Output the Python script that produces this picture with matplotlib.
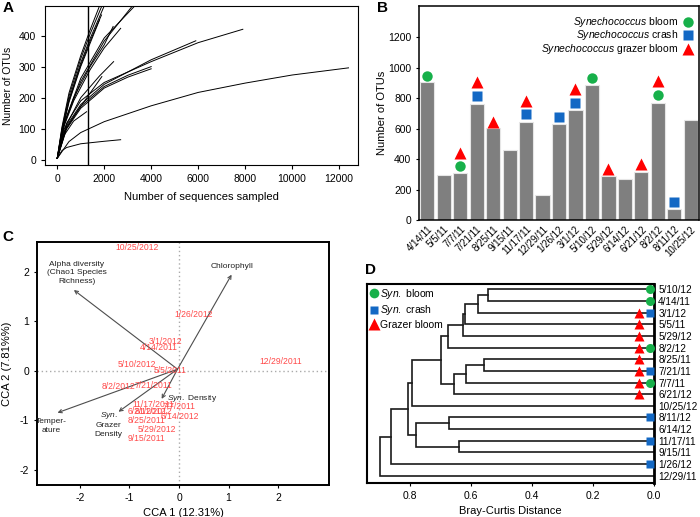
import matplotlib
matplotlib.use('Agg')
import matplotlib.pyplot as plt
import numpy as np

plt.rcParams['font.family'] = ['Liberation Sans', 'DejaVu Sans']
plt.rcParams['mathtext.fontset'] = 'custom'
plt.rcParams['mathtext.rm'] = 'Liberation Sans'
plt.rcParams['mathtext.it'] = 'Liberation Sans:italic'
plt.rcParams['axes.unicode_minus'] = False

# ---- panel A: rarefaction curves
rare_curves = [
    ([0, 500, 1000, 2000, 4000, 6000, 8000, 10000, 12400], [5, 59, 88, 123, 174, 217, 247, 273, 296]),
    ([0, 200, 400, 1000, 2000, 2700], [5, 30, 40, 52, 60, 65]),
    ([0, 400, 1000, 2000, 4000, 6000, 7900], [5, 118, 190, 249, 316, 377, 420]),
    ([0, 400, 1000, 2000, 4000, 5900], [5, 110, 178, 243, 322, 383]),
    ([0, 400, 1000, 2000, 3000, 4000], [5, 105, 172, 236, 272, 300]),
    ([0, 400, 1000, 2000, 3000, 4000], [5, 100, 166, 231, 266, 293]),
    ([0, 300, 1000, 1800, 2400], [5, 100, 200, 270, 316]),
    ([0, 300, 800, 1400, 1900], [5, 90, 150, 215, 268]),
    ([0, 300, 700, 1250], [5, 80, 125, 155]),
    ([0, 300, 1000, 2000, 3300], [5, 120, 262, 392, 495]),
    ([0, 300, 1000, 2000, 3200], [5, 116, 252, 382, 495]),
    ([0, 300, 700, 1400, 2000, 2700], [5, 110, 190, 290, 360, 423]),
    ([0, 300, 700, 1400, 2000, 2380], [5, 115, 200, 300, 370, 429]),
    ([0, 200, 500, 1000, 1400, 1900], [5, 100, 205, 325, 405, 495]),
    ([0, 200, 500, 1000, 1400, 2000], [5, 95, 195, 312, 390, 495]),
    ([0, 200, 500, 1000, 1400, 1800], [5, 90, 185, 300, 375, 450]),
    ([0, 200, 500, 1000, 1400, 1886], [5, 92, 190, 305, 382, 466]),
    ([0, 200, 500, 1000, 1400, 1800], [5, 105, 215, 335, 418, 495]),
]
rare_depth = 1320

# ---- panel B
dates = ['4/14/11', '5/5/11', '7/7/11', '7/21/11', '8/25/11', '9/15/11', '11/17/11',
         '12/29/11', '1/26/12', '3/1/12', '5/10/12', '5/29/12', '6/14/12', '6/21/12',
         '8/2/12', '8/11/12', '10/25/12']
otus = [905, 296, 307, 762, 604, 458, 642, 164, 628, 720, 887, 289, 267, 317, 770, 72, 659]
bloom_dates = ['4/14/11', '7/7/11', '5/10/12', '8/2/12']
bloom_y = [946, 355, 933, 821]
crash_dates = ['7/21/11', '11/17/11', '1/26/12', '3/1/12', '8/11/12']
crash_y = [812, 694, 676, 766, 120]
grazer_dates = ['7/7/11', '7/21/11', '8/25/11', '11/17/11', '3/1/12', '5/29/12', '6/21/12', '8/2/12']
grazer_y = [442, 904, 644, 784, 858, 333, 368, 912]

# ---- panel C: CCA
samp_names = ['10/25/2012', '1/26/2012', '3/1/2012', '4/14/2011', '12/29/2011', '5/10/2012',
              '5/5/2011', '8/2/2012', '7/21/2011', '11/17/2011', '7/7/2011', '6/21/2012',
              '8/11/2012', '6/14/2012', '8/25/2011', '5/29/2012', '9/15/2011']
samp_x = [-0.85, 0.29, -0.27, -0.40, 2.06, -0.85, -0.18, -1.22, -0.52, -0.52, 0.0, -0.65,
          -0.52, 0.02, -0.65, -0.45, -0.65]
samp_y = [2.48, 1.14, 0.59, 0.47, 0.18, 0.13, 0.0, -0.32, -0.30, -0.68, -0.73, -0.82,
          -0.83, -0.93, -1.01, -1.19, -1.38]
vec_x = [-2.12, 1.06, -2.45, -1.22, -0.35]
vec_y = [1.63, 1.94, -0.85, -0.83, -0.57]
vec_labels = ['Alpha diversity\n(Chao1 Species\nRichness)', 'Chlorophyll', 'Temper-\nature',
              '$\\it{Syn.}$\nGrazer\nDensity', '$\\it{Syn.}$ Density']
vec_lab_x = [-2.06, 1.06, -2.57, -1.42, 0.26]
vec_lab_y = [1.98, 2.1, -1.12, -1.07, -0.56]

# ---- panel D: dendrogram
leaves = ['5/10/12', '4/14/11', '3/1/12', '5/5/11', '5/29/12', '8/2/12', '8/25/11', '7/21/11',
          '7/7/11', '6/21/12', '10/25/12', '8/11/12', '6/14/12', '11/17/11', '9/15/11',
          '1/26/12', '12/29/11']
merges = [('5/10/12', '4/14/11', 0.545), (0, '3/1/12', 0.576), (1, '5/5/11', 0.62),
          (2, '5/29/12', 0.625), (3, '8/2/12', 0.677), ('8/25/11', '7/21/11', 0.558),
          (5, '7/7/11', 0.616), (6, '6/21/12', 0.655), (4, 7, 0.70), (8, '10/25/12', 0.793),
          ('8/11/12', '6/14/12', 0.672), ('11/17/11', '9/15/11', 0.64), (10, 11, 0.781),
          (9, 12, 0.807), (13, '1/26/12', 0.863), (14, '12/29/11', 0.898)]
d_bloom = ['5/10/12', '4/14/11', '8/2/12', '7/7/11']
d_crash = ['3/1/12', '7/21/11', '8/11/12', '11/17/11', '1/26/12']
d_grazer = ['3/1/12', '5/5/11', '5/29/12', '8/2/12', '8/25/11', '7/21/11', '7/7/11', '6/21/12']

green = '#17b04a'
blue = '#1368c4'
red = '#ff0000'

fig = plt.figure(figsize=(7, 5.17), dpi=100)

# A
axA = fig.add_axes([0.0643, 0.681, 0.447, 0.3075])
for xs, ys in rare_curves:
    axA.plot(xs, ys, color='black', lw=0.7)
axA.axvline(rare_depth, color='black', lw=1.0)
axA.set_xlim(-520, 12800)
axA.set_ylim(-16, 495)
axA.set_xticks(range(0, 12001, 2000))
axA.set_yticks(range(0, 401, 100))
axA.tick_params(labelsize=7.5, length=3, width=0.8)
axA.set_xlabel('Number of sequences sampled', fontsize=8)
axA.set_ylabel('Number of OTUs', fontsize=7.5)
axA.yaxis.set_label_coords(-0.103, 0.5)
axA.xaxis.set_label_coords(0.5, -0.17)
fig.text(0.004, 0.998, 'A', fontsize=11, fontweight='bold', va='top')

# B
axB = fig.add_axes([0.5986, 0.5745, 0.4, 0.414])
xb = np.arange(len(dates))
axB.bar(xb, otus, width=0.86, color='#7f7f7f', edgecolor='#e6e6e6', linewidth=0.8, zorder=2)
axB.plot([dates.index(d) for d in bloom_dates], bloom_y, 'o', color=green, ms=7.5, mec='none', zorder=3)
axB.plot([dates.index(d) for d in crash_dates], crash_y, 's', color=blue, ms=6.5, mec='none', zorder=3)
axB.plot([dates.index(d) for d in grazer_dates], grazer_y, '^', color=red, ms=8, mec='none', zorder=3)
axB.set_xlim(-0.5, 16.5)
axB.set_ylim(0, 1405)
axB.set_yticks(range(0, 1201, 200))
axB.set_xticks(xb)
axB.set_xticklabels(dates, rotation=45, ha='right', rotation_mode='anchor', fontsize=7)
axB.tick_params(axis='y', labelsize=7.5, length=2)
axB.tick_params(axis='x', length=0, pad=3)
axB.set_ylabel('Number of OTUs', fontsize=8)
axB.yaxis.set_label_coords(-0.115, 0.5)
for s in axB.spines.values():
    s.set_linewidth(1.1)
leg_txt = ['$\\it{Synechococcus}$ bloom', '$\\it{Synechococcus}$ crash',
           '$\\it{Synechococcus}$ grazer bloom']
leg_mk = [('o', green, 7.5), ('s', blue, 6.5), ('^', red, 8)]
leg_y = [0.925, 0.866, 0.798]
for t, (m, c, ms), yy in zip(leg_txt, leg_mk, leg_y):
    axB.text(0.925, yy, t, transform=axB.transAxes, ha='right', va='center', fontsize=7.5)
    axB.plot([0.962], [yy], m, color=c, ms=ms, mec='none', transform=axB.transAxes, clip_on=False)
fig.text(0.538, 0.998, 'B', fontsize=11, fontweight='bold', va='top')

# C
axC = fig.add_axes([0.0524, 0.0619, 0.418, 0.470])
axC.set_xlim(-2.87, 3.03)
axC.set_ylim(-2.31, 2.6)
axC.axhline(0, color='#aaaaaa', lw=1, ls=(0, (1, 2)))
axC.axvline(0, color='#aaaaaa', lw=1, ls=(0, (1, 2)))
ox, oy = -0.03, 0.03
for vx, vy in zip(vec_x, vec_y):
    axC.annotate('', xy=(vx, vy), xytext=(ox, oy),
                 arrowprops=dict(arrowstyle='->', color='#4d4d4d', lw=0.8,
                                 shrinkA=0, shrinkB=0, mutation_scale=6))
for t, lx, ly in zip(vec_labels, vec_lab_x, vec_lab_y):
    axC.text(lx, ly, t, ha='center', va='center', fontsize=6, color='#222222', linespacing=1.3)
for t, sx, sy in zip(samp_names, samp_x, samp_y):
    axC.text(sx, sy, t, ha='center', va='center', fontsize=6.2, color='#ff4a4a')
axC.set_xticks([-2, -1, 0, 1, 2])
axC.set_yticks([-2, -1, 0, 1, 2])
axC.tick_params(labelsize=7.5, length=2)
axC.set_xlabel('CCA 1 (12.31%)', fontsize=8)
axC.set_ylabel('CCA 2 (7.81%%)', fontsize=8)
axC.yaxis.set_label_coords(-0.083, 0.5)
for s in axC.spines.values():
    s.set_linewidth(1.4)
fig.text(0.004, 0.556, 'C', fontsize=11, fontweight='bold', va='top')

# D
axD = fig.add_axes([0.5239, 0.0652, 0.4104, 0.3855])
pos = {n: (0.0, i) for i, n in enumerate(leaves)}
for k, (a, b, h) in enumerate(merges):
    ha_, ya = pos[a]
    hb, yb = pos[b]
    axD.plot([ha_, h, h, hb], [ya, ya, yb, yb], color='#1a1a1a', lw=1.2, solid_joinstyle='miter')
    pos[k] = (h, (ya + yb) / 2)
axD.plot([0.05] * len(d_grazer), [leaves.index(n) for n in d_grazer], '^', color=red, ms=7, mec='none', zorder=3)
axD.plot([0.013] * len(d_bloom), [leaves.index(n) for n in d_bloom], 'o', color=green, ms=6.5, mec='none', zorder=3)
axD.plot([0.013] * len(d_crash), [leaves.index(n) for n in d_crash], 's', color=blue, ms=5.5, mec='none', zorder=3)
axD.set_xlim(0.942, 0)
axD.set_ylim(16.65, -0.46)
axD.set_xticks([0.8, 0.6, 0.4, 0.2, 0.0])
axD.set_xticklabels(['0.8', '0.6', '0.4', '0.2', '0.0'])
axD.set_yticks(range(len(leaves)))
axD.set_yticklabels(leaves)
axD.yaxis.tick_right()
axD.tick_params(axis='y', length=0, labelsize=7.2, pad=3)
axD.tick_params(axis='x', labelsize=7.5, length=2)
axD.set_xlabel('Bray-Curtis Distance', fontsize=8)
for s in axD.spines.values():
    s.set_linewidth(1.5)
axD.spines['right'].set_linewidth(2)
hl = [plt.Line2D([], [], marker='o', color=green, ls='none', ms=7, mec='none'),
      plt.Line2D([], [], marker='s', color=blue, ls='none', ms=6, mec='none'),
      plt.Line2D([], [], marker='^', color=red, ls='none', ms=8, mec='none')]
axD.legend(hl, ['$\\it{Syn.}$ bloom', '$\\it{Syn.}$ crash', 'Grazer bloom'], loc='upper left',
           frameon=False, fontsize=7.5, handlelength=0.8, handletextpad=0.2, labelspacing=0.25,
           borderaxespad=0.15, borderpad=0.1)
fig.text(0.522, 0.492, 'D', fontsize=11, fontweight='bold', va='top')

fig.savefig('out.png', dpi=100)
